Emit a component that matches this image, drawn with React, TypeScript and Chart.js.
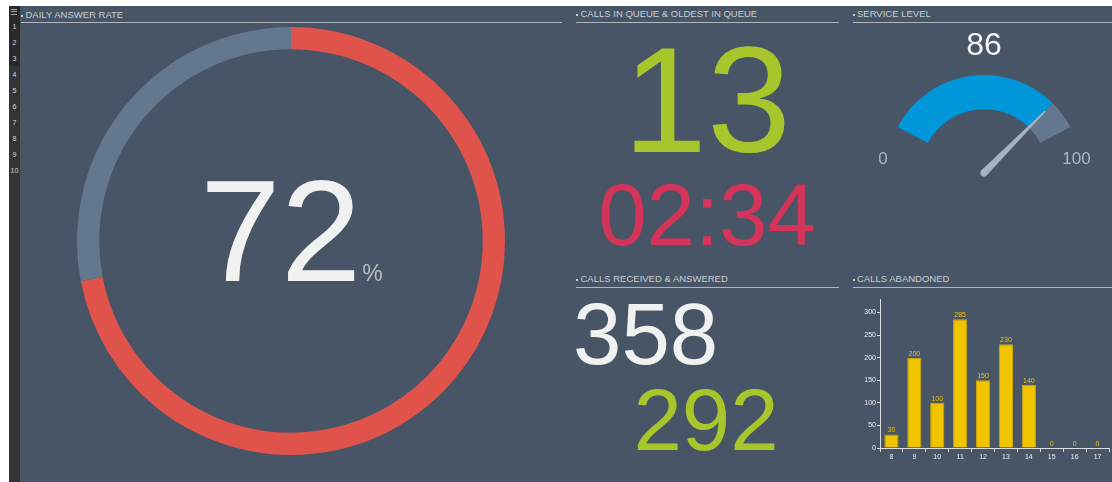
import React, { useEffect, useRef } from "react";
import { Chart, registerables } from "chart.js";

Chart.register(...registerables);

// ---------- data ----------
const answerRateLabels = ["Answered", "Not answered"];
const answerRateValues = [72, 28];
const answerRateText = "72";

const callsInQueue = "13";
const oldestInQueue = "02:34";

const serviceLevelLabels = ["Service level", "Remaining"];
const serviceLevelValue = 86;
const serviceLevelMin = 0;
const serviceLevelMax = 100;

const callsReceived = "358";
const callsAnswered = "292";

const abandonedHours = ["8", "9", "10", "11", "12", "13", "14", "15", "16", "17"];
const abandonedValues = [30, 200, 100, 285, 150, 230, 140, 0, 0, 0];
const abandonedTicks = [0, 50, 100, 150, 200, 250, 300];

const sidebarRows = ["1", "2", "3", "4", "5", "6", "7", "8", "9", "10"];

// ---------- styles ----------
const FONT = '"Liberation Sans", Arial, Helvetica, sans-serif';
const BG = "#475566";
const HEADER_COLOR = "#c9cdd2";
const LINE_COLOR = "#aeb5bd";
const GREEN = "#a9c52c";
const CRIMSON = "#d5345a";
const WHITE = "#f1f1f1";

type TxtProps = {
  x: number;
  baseline: number;
  size: number;
  color: string;
  align?: "left" | "center";
  children: React.ReactNode;
};

function Txt({ x, baseline, size, color, align = "left", children }: TxtProps) {
  const top = baseline - 0.8465 * size;
  const style: React.CSSProperties = {
    position: "absolute",
    top,
    fontFamily: FONT,
    fontSize: size,
    lineHeight: `${size}px`,
    color,
    whiteSpace: "nowrap",
  };
  if (align === "center") {
    style.left = x - 300;
    style.width = 600;
    style.textAlign = "center";
  } else {
    style.left = x;
  }
  return <div style={style}>{children}</div>;
}

function Header({ x, right, baseline, lineY, title }: { x: number; right: number; baseline: number; lineY: number; title: string }) {
  return (
    <>
      <div style={{ position: "absolute", left: x, top: baseline - 3, width: 2, height: 2, background: HEADER_COLOR }} />
      <Txt x={x + 4.5} baseline={baseline} size={9.5} color={HEADER_COLOR}>
        {title}
      </Txt>
      <div style={{ position: "absolute", left: x, top: lineY, width: right - x, height: 1, background: LINE_COLOR }} />
    </>
  );
}

function RingChart() {
  const ref = useRef<HTMLCanvasElement | null>(null);
  useEffect(() => {
    if (!ref.current) return;
    const chart = new Chart(ref.current, {
      type: "doughnut",
      data: {
        labels: answerRateLabels,
        datasets: [
          {
            data: answerRateValues,
            backgroundColor: ["#e0534b", "#63788f"],
            borderWidth: 0,
          },
        ],
      },
      options: {
        animation: false,
        responsive: false,
        cutout: "89.6%",
        rotation: 0,
        layout: { padding: 0 },
        plugins: { legend: { display: false }, tooltip: { enabled: false } },
      },
    });
    return () => chart.destroy();
  }, []);
  return (
    <canvas
      ref={ref}
      width={428}
      height={428}
      style={{ position: "absolute", left: 77, top: 27, width: 428, height: 428 }}
    />
  );
}

const needlePlugin = {
  id: "gaugeNeedle",
  afterDatasetsDraw(chart: any) {
    const arc = chart.getDatasetMeta(0).data[0];
    if (!arc) return;
    const { x, y, outerRadius, endAngle } = arc.getProps(["x", "y", "outerRadius", "endAngle"], true);
    const ctx = chart.ctx;
    const len = outerRadius * 0.89;
    const baseW = 3.6;
    ctx.save();
    ctx.translate(x, y);
    ctx.rotate(endAngle);
    ctx.beginPath();
    ctx.moveTo(0, -baseW);
    ctx.lineTo(len, -0.7);
    ctx.lineTo(len, 0.7);
    ctx.lineTo(0, baseW);
    ctx.arc(0, 0, baseW, Math.PI / 2, Math.PI * 1.5);
    ctx.closePath();
    ctx.fillStyle = "#a5b2c0";
    ctx.fill();
    ctx.restore();
  },
};

function GaugeChart() {
  const ref = useRef<HTMLCanvasElement | null>(null);
  useEffect(() => {
    if (!ref.current) return;
    const chart = new Chart(ref.current, {
      type: "doughnut",
      data: {
        labels: serviceLevelLabels,
        datasets: [
          {
            data: [serviceLevelValue - serviceLevelMin, serviceLevelMax - serviceLevelValue],
            backgroundColor: ["#0096da", "#63788f"],
            borderWidth: 0,
          },
        ],
      },
      options: {
        animation: false,
        responsive: false,
        rotation: -62,
        circumference: 124,
        cutout: "65%",
        layout: { padding: { top: 51, bottom: 47, left: 32, right: 28 } },
        plugins: { legend: { display: false }, tooltip: { enabled: false } },
      },
      plugins: [needlePlugin],
    });
    return () => chart.destroy();
  }, []);
  return (
    <canvas
      ref={ref}
      width={260}
      height={166}
      style={{ position: "absolute", left: 852, top: 24, width: 260, height: 166 }}
    />
  );
}

const barLabelPlugin = {
  id: "barValueLabels",
  afterDatasetsDraw(chart: any) {
    const ctx = chart.ctx;
    const meta = chart.getDatasetMeta(0);
    const values = chart.data.datasets[0].data;
    ctx.save();
    ctx.font = `7px ${FONT}`;
    ctx.fillStyle = "#f0c300";
    ctx.textAlign = "center";
    ctx.textBaseline = "bottom";
    meta.data.forEach((bar: any, i: number) => {
      ctx.fillText(String(values[i]), bar.x, bar.y - 0.5);
    });
    ctx.restore();
  },
};

function BarChart() {
  const ref = useRef<HTMLCanvasElement | null>(null);
  useEffect(() => {
    if (!ref.current) return;
    const axisColor = "#d9dde2";
    const chart = new Chart(ref.current, {
      type: "bar",
      data: {
        labels: abandonedHours,
        datasets: [
          {
            data: abandonedValues,
            backgroundColor: "#f1c400",
            borderColor: "#cfa800",
            borderWidth: 1,
            categoryPercentage: 1,
            barPercentage: 0.62,
          },
        ],
      },
      options: {
        animation: false,
        responsive: false,
        layout: { padding: { top: 7, right: 3, left: 0, bottom: 0 } },
        plugins: { legend: { display: false }, tooltip: { enabled: false } },
        scales: {
          x: {
            grid: { display: true, drawOnChartArea: false, drawTicks: true, tickLength: 4, color: axisColor, offset: true },
            border: { display: true, color: axisColor, width: 1 },
            ticks: { color: "#eef0f2", font: { size: 7, family: FONT }, padding: 1, maxRotation: 0, autoSkip: false },
            afterFit: (s: any) => {
              s.height = 22;
            },
          },
          y: {
            min: 0,
            max: 330,
            grid: { display: true, drawOnChartArea: false, drawTicks: true, tickLength: 3, color: axisColor },
            border: { display: true, color: axisColor, width: 1 },
            ticks: { color: "#eef0f2", font: { size: 7, family: FONT }, padding: 1 },
            afterBuildTicks: (s: any) => {
              s.ticks = abandonedTicks.map((v) => ({ value: v }));
            },
            afterFit: (s: any) => {
              s.width = 34;
            },
          },
        },
      },
      plugins: [barLabelPlugin],
    });
    return () => chart.destroy();
  }, []);
  return (
    <canvas
      ref={ref}
      width={266}
      height={178}
      style={{ position: "absolute", left: 846, top: 292, width: 266, height: 178 }}
    />
  );
}

export default function App() {
  return (
    <div style={{ position: "fixed", left: 0, top: 0, width: 1112, height: 482, background: "#ffffff", overflow: "hidden" }}>
      {/* main background */}
      <div style={{ position: "absolute", left: 20, top: 6, width: 1092, height: 476, background: BG }} />
      {/* sidebar */}
      <div style={{ position: "absolute", left: 9, top: 6, width: 11, height: 476, background: "#343434" }} />
      <div style={{ position: "absolute", left: 9, top: 6, width: 11, height: 60, background: "#2a2a2a" }} />
      {[0, 1, 2].map((i) => (
        <div key={i} style={{ position: "absolute", left: 11, top: 9 + i * 2.3, width: 6, height: 1, background: "#a8a8a8" }} />
      ))}
      {sidebarRows.map((r, i) => (
        <Txt key={r} x={14.5} baseline={29.2 + i * 16} size={7} color="#d8d8d8" align="center">
          {r}
        </Txt>
      ))}

      {/* headers */}
      <Header x={21} right={562} baseline={17.7} lineY={22} title="DAILY ANSWER RATE" />
      <Header x={576} right={839} baseline={17.4} lineY={22} title="CALLS IN QUEUE & OLDEST IN QUEUE" />
      <Header x={852.5} right={1112} baseline={17.4} lineY={22} title="SERVICE LEVEL" />
      <Header x={576} right={839} baseline={281.8} lineY={286.5} title="CALLS RECEIVED & ANSWERED" />
      <Header x={852.5} right={1112} baseline={281.8} lineY={286.5} title="CALLS ABANDONED" />

      {/* daily answer rate */}
      <RingChart />
      <div
        style={{
          position: "absolute",
          left: 200,
          top: 282 - 0.8465 * 145,
          fontFamily: FONT,
          fontSize: 145,
          lineHeight: "145px",
          color: WHITE,
          whiteSpace: "nowrap",
        }}
      >
        {answerRateText}
        <span style={{ fontSize: 23, color: "#b9bec4", marginLeft: 1 }}>%</span>
      </div>

      {/* calls in queue */}
      <Txt x={707} baseline={151.7} size={151} color={GREEN} align="center">
        {callsInQueue}
      </Txt>
      <Txt x={707} baseline={245} size={87} color={CRIMSON} align="center">
        {oldestInQueue}
      </Txt>

      {/* service level */}
      <GaugeChart />
      <Txt x={984} baseline={55} size={32} color={WHITE} align="center">
        {String(serviceLevelValue)}
      </Txt>
      <Txt x={883} baseline={164} size={17} color="#aeb4bb" align="center">
        {String(serviceLevelMin)}
      </Txt>
      <Txt x={1076.5} baseline={164} size={17} color="#aeb4bb" align="center">
        {String(serviceLevelMax)}
      </Txt>

      {/* calls received & answered */}
      <Txt x={573} baseline={363.3} size={87} color={WHITE}>
        {callsReceived}
      </Txt>
      <Txt x={706} baseline={450} size={87} color={GREEN} align="center">
        {callsAnswered}
      </Txt>

      {/* calls abandoned */}
      <BarChart />
    </div>
  );
}
